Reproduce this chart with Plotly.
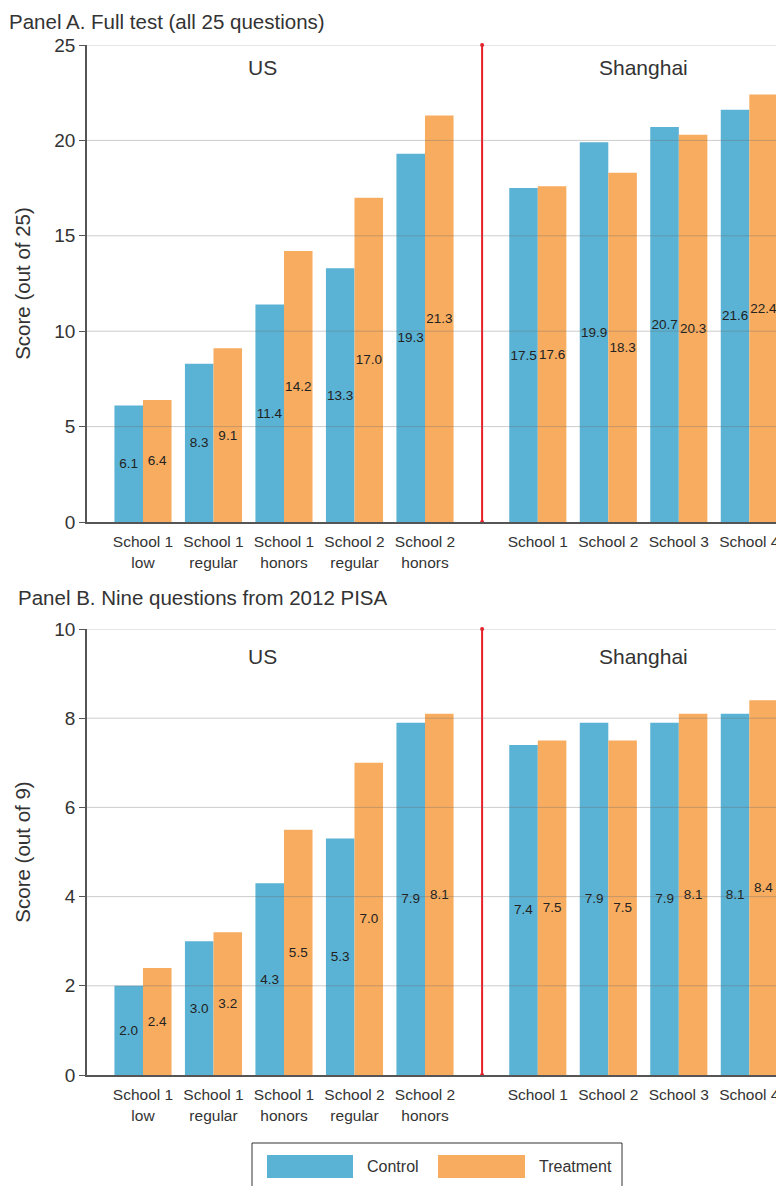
import plotly.graph_objects as go

# ---------------- data ----------------
us_schools = ["School 1<br>low", "School 1<br>regular", "School 1<br>honors",
              "School 2<br>regular", "School 2<br>honors"]
sh_schools = ["School 1", "School 2", "School 3", "School 4"]

a_control_us = [6.1, 8.3, 11.4, 13.3, 19.3]
a_treat_us = [6.4, 9.1, 14.2, 17.0, 21.3]
a_control_sh = [17.5, 19.9, 20.7, 21.6]
a_treat_sh = [17.6, 18.3, 20.3, 22.4]

b_control_us = [2.0, 3.0, 4.3, 5.3, 7.9]
b_treat_us = [2.4, 3.2, 5.5, 7.0, 8.1]
b_control_sh = [7.4, 7.9, 7.9, 8.1]
b_treat_sh = [7.5, 7.5, 8.1, 8.4]

a_ticks = [0, 5, 10, 15, 20, 25]
b_ticks = [0, 2, 4, 6, 8, 10]

# ---------------- layout constants ----------------
W, H = 784, 1186
OFF = 8                  # browser default body margin; compensate so page matches
BLUE = "#5AB2D4"
ORANGE = "#F7AC60"
RED = "#E8202A"
TXT = "#333333"
FONT = "Liberation Sans, Arial, Helvetica, sans-serif"
NARROW = "Liberation Sans Narrow, Arial Narrow, Liberation Sans, sans-serif"

SH_OFFSET = 5.6          # position of first Shanghai group
DIVIDER = 4.81           # red divider position
XRANGE = [-0.794, 9.092]

us_x = list(range(len(us_schools)))
sh_x = [SH_OFFSET + i for i in range(len(sh_schools))]
all_x = us_x + sh_x
all_labels = us_schools + sh_schools


def py(px):
    return 1 - (px - OFF) / H


def pxx(px):
    return (px - OFF) / W


fig = go.Figure()

panels = [
    dict(ctrl=a_control_us + a_control_sh, trt=a_treat_us + a_treat_sh,
         xa="x", ya="y", ymax=25, ticks=a_ticks),
    dict(ctrl=b_control_us + b_control_sh, trt=b_treat_us + b_treat_sh,
         xa="x2", ya="y2", ymax=10, ticks=b_ticks),
]

for p in panels:
    for name, vals, col in [("Control", p["ctrl"], BLUE), ("Treatment", p["trt"], ORANGE)]:
        fig.add_trace(go.Bar(
            x=all_x, y=vals, name=name, marker=dict(color=col, line=dict(width=0)),
            xaxis=p["xa"], yaxis=p["ya"], showlegend=False,
            texttemplate="%{y:.1f}", textposition="inside", insidetextanchor="middle",
            textangle=0, constraintext="none",
            textfont=dict(family=NARROW, size=13.5, color="#222222"),
            hoverinfo="skip",
        ))
    # red divider
    fig.add_trace(go.Scatter(
        x=[DIVIDER, DIVIDER], y=[0, p["ymax"]], mode="lines+markers",
        line=dict(color=RED, width=2), marker=dict(color=RED, size=4),
        xaxis=p["xa"], yaxis=p["ya"], showlegend=False, hoverinfo="skip", cliponaxis=False,
    ))

fig.update_layout(
    template="none",
    width=W, height=H, margin=dict(l=0, r=0, t=0, b=0, autoexpand=False),
    paper_bgcolor="white", plot_bgcolor="white",
    barmode="group", bargap=0.19, bargroupgap=0,
    font=dict(family=FONT, color=TXT),
)

xcommon = dict(range=XRANGE, tickvals=all_x, ticktext=all_labels, showgrid=False,
               zeroline=False, showline=True, linecolor="#555555", linewidth=1.5,
               ticks="outside", ticklen=5, tickcolor="rgba(0,0,0,0)", automargin=False,
               tickfont=dict(family=FONT, size=15.5, color=TXT))
ycommon = dict(showgrid=False, zeroline=False, showline=True, linecolor="#555555",
               linewidth=1.5, ticks="outside", ticklen=6, tickcolor="#555555", automargin=False,
               tickfont=dict(family=FONT, size=19, color=TXT),
               title_font=dict(family=FONT, size=20.5, color=TXT), title_standoff=18)

fig.update_layout(
    xaxis=dict(domain=[pxx(87), pxx(784)], anchor="y", **xcommon),
    yaxis=dict(domain=[py(522), py(45)], anchor="x", range=[0, 25], tickvals=a_ticks,
               title_text="Score (out of 25)", **ycommon),
    xaxis2=dict(domain=[pxx(87), pxx(784)], anchor="y2", **xcommon),
    yaxis2=dict(domain=[py(1075), py(629)], anchor="x2", range=[0, 10], tickvals=b_ticks,
                title_text="Score (out of 9)", **ycommon),
)

shapes = []
for p, (xr, yr) in zip(panels, [("x domain", "y"), ("x2 domain", "y2")]):
    for t in p["ticks"][1:]:
        shapes.append(dict(type="line", xref=xr, yref=yr, x0=0, x1=1, y0=t, y1=t,
                           line=dict(color="rgba(110,110,110,0.35)", width=1), layer="above"))

# custom legend
shapes.append(dict(type="rect", xref="paper", yref="paper",
                   x0=pxx(252), x1=pxx(622), y0=py(1200), y1=py(1143),
                   line=dict(color="#333333", width=1), fillcolor="rgba(0,0,0,0)"))
shapes.append(dict(type="rect", xref="paper", yref="paper",
                   x0=pxx(267), x1=pxx(353), y0=py(1178), y1=py(1155),
                   line=dict(width=0), fillcolor=BLUE))
shapes.append(dict(type="rect", xref="paper", yref="paper",
                   x0=pxx(438), x1=pxx(525), y0=py(1178), y1=py(1155),
                   line=dict(width=0), fillcolor=ORANGE))
fig.update_layout(shapes=shapes)

ann = [
    dict(text="Panel A. Full test (all 25 questions)", x=pxx(7), y=py(8), xref="paper", yref="paper",
         xanchor="left", yanchor="top", showarrow=False, font=dict(size=20.5, color=TXT)),
    dict(text="Panel B. Nine questions from 2012 PISA", x=pxx(16), y=py(598), xref="paper", yref="paper",
         xanchor="left", yanchor="middle", showarrow=False, font=dict(size=20.5, color=TXT)),
    dict(text="Control", x=pxx(393), y=py(1166), xref="paper", yref="paper",
         xanchor="center", yanchor="middle", showarrow=False, font=dict(size=16, color=TXT)),
    dict(text="Treatment", x=pxx(575), y=py(1166), xref="paper", yref="paper",
         xanchor="center", yanchor="middle", showarrow=False, font=dict(size=16, color=TXT)),
]
for ypx in (67, 657):
    ann.append(dict(text="US", x=1.7, y=py(ypx), xref="x", yref="paper", xanchor="center",
                    yanchor="middle", showarrow=False, font=dict(size=21, color=TXT)))
    ann.append(dict(text="Shanghai", x=SH_OFFSET + 1.5, y=py(ypx), xref="x", yref="paper",
                    xanchor="center", yanchor="middle", showarrow=False, font=dict(size=21, color=TXT)))
fig.update_layout(annotations=ann)

fig.write_html("out.html")
